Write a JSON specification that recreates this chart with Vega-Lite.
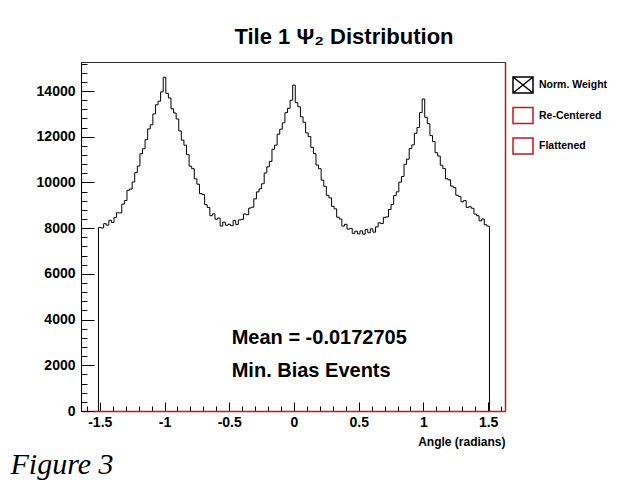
{
  "$schema": "https://vega.github.io/schema/vega-lite/v6.json",
  "autosize": {"type": "none"},
  "width": 424,
  "height": 349,
  "padding": {"left": 81, "top": 62, "right": 128, "bottom": 82},
  "background": "white",
  "config": {
    "font": "Liberation Sans",
    "view": {"stroke": "#333333", "strokeWidth": 1},
    "axis": {"labelFont": "Liberation Sans", "titleFont": "Liberation Sans", "grid": false}
  },
  "title": {
    "text": "Tile 1 Ψ₂ Distribution",
    "font": "Liberation Sans",
    "fontSize": 22,
    "fontWeight": "bold",
    "color": "black",
    "anchor": "middle",
    "frame": "group",
    "baseline": "alphabetic",
    "dx": 51,
    "offset": -9
  },
  "datasets": {
    "hist": [
      {"x": -1.51, "y": 0},
      {"x": -1.51, "y": 8030}, {"x": -1.49, "y": 8008}, {"x": -1.47, "y": 8195}, {"x": -1.45, "y": 8131}, {"x": -1.43, "y": 8345},
      {"x": -1.41, "y": 8247}, {"x": -1.39, "y": 8470}, {"x": -1.37, "y": 8674}, {"x": -1.35, "y": 8668}, {"x": -1.33, "y": 9053},
      {"x": -1.31, "y": 9209}, {"x": -1.29, "y": 9656}, {"x": -1.27, "y": 9713}, {"x": -1.25, "y": 10020}, {"x": -1.23, "y": 10429},
      {"x": -1.21, "y": 10717}, {"x": -1.19, "y": 11256}, {"x": -1.17, "y": 11475}, {"x": -1.15, "y": 11874}, {"x": -1.13, "y": 12343},
      {"x": -1.11, "y": 12522}, {"x": -1.09, "y": 13000}, {"x": -1.07, "y": 13398}, {"x": -1.05, "y": 13556}, {"x": -1.03, "y": 13963},
      {"x": -1.01, "y": 14600}, {"x": -0.99, "y": 13898}, {"x": -0.97, "y": 13695}, {"x": -0.95, "y": 13223}, {"x": -0.93, "y": 13040},
      {"x": -0.91, "y": 12777}, {"x": -0.89, "y": 12254}, {"x": -0.87, "y": 11851}, {"x": -0.85, "y": 11628}, {"x": -0.83, "y": 11215},
      {"x": -0.81, "y": 10712}, {"x": -0.79, "y": 10600}, {"x": -0.77, "y": 10157}, {"x": -0.75, "y": 9924}, {"x": -0.73, "y": 9512},
      {"x": -0.71, "y": 9470}, {"x": -0.69, "y": 9028}, {"x": -0.67, "y": 8906}, {"x": -0.65, "y": 8545}, {"x": -0.63, "y": 8623},
      {"x": -0.61, "y": 8392}, {"x": -0.59, "y": 8442}, {"x": -0.57, "y": 8089}, {"x": -0.55, "y": 8264}, {"x": -0.53, "y": 8128},
      {"x": -0.51, "y": 8170}, {"x": -0.49, "y": 8107}, {"x": -0.47, "y": 8331}, {"x": -0.45, "y": 8162}, {"x": -0.43, "y": 8360},
      {"x": -0.41, "y": 8384}, {"x": -0.39, "y": 8617}, {"x": -0.37, "y": 8589}, {"x": -0.35, "y": 8878}, {"x": -0.33, "y": 8916},
      {"x": -0.31, "y": 9282}, {"x": -0.29, "y": 9586}, {"x": -0.27, "y": 9720}, {"x": -0.25, "y": 9943}, {"x": -0.23, "y": 10414},
      {"x": -0.21, "y": 10684}, {"x": -0.19, "y": 10923}, {"x": -0.17, "y": 11452}, {"x": -0.15, "y": 11631}, {"x": -0.13, "y": 12110},
      {"x": -0.11, "y": 12329}, {"x": -0.09, "y": 12610}, {"x": -0.07, "y": 13051}, {"x": -0.05, "y": 13243}, {"x": -0.03, "y": 13596},
      {"x": -0.01, "y": 14260}, {"x": 0.01, "y": 13491}, {"x": 0.03, "y": 13312}, {"x": 0.05, "y": 12873}, {"x": 0.07, "y": 12634},
      {"x": 0.09, "y": 12165}, {"x": 0.11, "y": 12006}, {"x": 0.13, "y": 11538}, {"x": 0.15, "y": 11259}, {"x": 0.17, "y": 10760},
      {"x": 0.19, "y": 10601}, {"x": 0.21, "y": 10102}, {"x": 0.23, "y": 9833}, {"x": 0.25, "y": 9434}, {"x": 0.27, "y": 9325},
      {"x": 0.29, "y": 8956}, {"x": 0.31, "y": 8847}, {"x": 0.33, "y": 8478}, {"x": 0.35, "y": 8398}, {"x": 0.37, "y": 8089},
      {"x": 0.39, "y": 8169}, {"x": 0.41, "y": 7959}, {"x": 0.43, "y": 7988}, {"x": 0.45, "y": 7774}, {"x": 0.47, "y": 7868},
      {"x": 0.49, "y": 7750}, {"x": 0.51, "y": 7880}, {"x": 0.53, "y": 7740}, {"x": 0.55, "y": 7945}, {"x": 0.57, "y": 7800},
      {"x": 0.59, "y": 7970}, {"x": 0.61, "y": 7825}, {"x": 0.63, "y": 8055}, {"x": 0.65, "y": 8233}, {"x": 0.67, "y": 8200},
      {"x": 0.69, "y": 8472}, {"x": 0.71, "y": 8493}, {"x": 0.73, "y": 8818}, {"x": 0.75, "y": 9037}, {"x": 0.77, "y": 9426},
      {"x": 0.79, "y": 9589}, {"x": 0.81, "y": 10012}, {"x": 0.83, "y": 10259}, {"x": 0.85, "y": 10795}, {"x": 0.87, "y": 11018},
      {"x": 0.89, "y": 11481}, {"x": 0.91, "y": 11644}, {"x": 0.93, "y": 12150}, {"x": 0.95, "y": 12407}, {"x": 0.97, "y": 13060},
      {"x": 0.99, "y": 13650}, {"x": 1.01, "y": 12850}, {"x": 1.03, "y": 12570}, {"x": 1.05, "y": 12051}, {"x": 1.07, "y": 11791},
      {"x": 1.09, "y": 11301}, {"x": 1.11, "y": 11153}, {"x": 1.13, "y": 10754}, {"x": 1.15, "y": 10607}, {"x": 1.17, "y": 10160},
      {"x": 1.19, "y": 10115}, {"x": 1.21, "y": 9839}, {"x": 1.23, "y": 9773}, {"x": 1.25, "y": 9439}, {"x": 1.27, "y": 9385},
      {"x": 1.29, "y": 9152}, {"x": 1.31, "y": 9209}, {"x": 1.33, "y": 8907}, {"x": 1.35, "y": 8938}, {"x": 1.37, "y": 8870},
      {"x": 1.39, "y": 8617}, {"x": 1.41, "y": 8543}, {"x": 1.43, "y": 8320}, {"x": 1.45, "y": 8401}, {"x": 1.47, "y": 8149},
      {"x": 1.49, "y": 8090}, {"x": 1.51, "y": 8090},
      {"x": 1.51, "y": 0}
    ],
    "notes": [
      {"x": -0.481, "y": 2931, "text": "Mean = -0.0172705"},
      {"x": -0.481, "y": 1500, "text": "Min. Bias Events"}
    ]
  },
  "layer": [
    {
      "data": {"name": "hist"},
      "mark": {"type": "line", "interpolate": "step-after", "strokeWidth": 1},
      "encoding": {
        "x": {
          "field": "x",
          "type": "quantitative",
          "scale": {"domain": [-1.645, 1.63], "nice": false, "zero": false},
          "axis": {
            "orient": "bottom",
            "values": [-1.6, -1.5, -1.4, -1.3, -1.2, -1.1, -1, -0.9, -0.8, -0.7, -0.6, -0.5, -0.4, -0.3, -0.2, -0.1, 0, 0.1, 0.2, 0.3, 0.4, 0.5, 0.6, 0.7, 0.8, 0.9, 1, 1.1, 1.2, 1.3, 1.4, 1.5, 1.6],
            "labelExpr": "abs(datum.value * 2 - round(datum.value * 2)) < 0.001 ? toString(datum.value) : ''",
            "tickSize": {"condition": {"test": "abs(datum.value * 2 - round(datum.value * 2)) < 0.001", "value": -9}, "value": -5},
            "tickColor": "black",
            "tickWidth": 1,
            "labelPadding": 13,
            "labelFontSize": 14,
            "labelFontWeight": "bold",
            "labelColor": "black",
            "labelOverlap": false,
            "labelFlush": false,
            "domainColor": "#c8141e",
            "domainWidth": 1.5,
            "title": "Angle (radians)",
            "titleAnchor": "end",
            "titleFontSize": 12,
            "titleFontWeight": "bold",
            "titleColor": "black",
            "titlePadding": 3
          }
        },
        "y": {
          "field": "y",
          "type": "quantitative",
          "scale": {"domain": [0, 15270], "nice": false, "zero": true},
          "axis": {
            "orient": "left",
            "values": [0, 400, 800, 1200, 1600, 2000, 2400, 2800, 3200, 3600, 4000, 4400, 4800, 5200, 5600, 6000, 6400, 6800, 7200, 7600, 8000, 8400, 8800, 9200, 9600, 10000, 10400, 10800, 11200, 11600, 12000, 12400, 12800, 13200, 13600, 14000, 14400, 14800, 15200],
            "labelExpr": "datum.value % 2000 === 0 ? toString(datum.value) : ''",
            "tickSize": {"condition": {"test": "datum.value % 2000 === 0", "value": -13}, "value": -6},
            "tickColor": "black",
            "labelPadding": 19,
            "labelFontSize": 14,
            "labelFontWeight": "bold",
            "labelColor": "black",
            "labelOverlap": false,
            "labelFlush": false,
            "domainColor": "black",
            "title": null
          }
        },
        "color": {
          "datum": "Norm. Weight",
          "type": "nominal",
          "scale": {"domain": ["Norm. Weight", "Re-Centered", "Flattened"], "range": ["black", "#c8141e", "#c8141e"]},
          "legend": {
            "title": null,
            "orient": "none",
            "legendX": 433,
            "legendY": 14,
            "padding": 0,
            "symbolType": "M-1.25,-1H1.25V1H-1.25Z",
            "symbolSize": 256,
            "symbolStrokeWidth": 1.5,
            "symbolFillColor": "white",
            "labelFontSize": 10.5,
            "labelFontWeight": "bold",
            "labelColor": "black",
            "labelOffset": 7,
            "rowPadding": 8.5,
            "encode": {
              "symbols": {
                "update": {
                  "shape": {"signal": "datum.value === 'Norm. Weight' ? 'M-1.25,-1H1.25V1H-1.25Z M-1.25,-1L1.25,1 M1.25,-1L-1.25,1' : 'M-1.25,-1H1.25V1H-1.25Z'"},
                  "fill": {"value": "white"},
                  "opacity": {"value": 1}
                }
              }
            }
          }
        },
        "order": {"value": null}
      }
    },
    {
      "data": {"name": "notes"},
      "mark": {"type": "text", "align": "left", "baseline": "alphabetic", "fontSize": 20, "fontWeight": "bold", "color": "black", "font": "Liberation Sans"},
      "encoding": {
        "x": {
          "field": "x",
          "type": "quantitative",
          "axis": {
            "orient": "bottom",
            "domain": false,
            "ticks": false,
            "labels": false,
            "grid": false,
            "title": "Figure 3",
            "titleFont": "Liberation Serif",
            "titleFontStyle": "italic",
            "titleFontWeight": "normal",
            "titleFontSize": 30,
            "titleColor": "black",
            "titleAnchor": "start",
            "titleAlign": "left",
            "titleBaseline": "alphabetic",
            "titleX": -71,
            "titleY": 62
          }
        },
        "y": {
          "field": "y",
          "type": "quantitative",
          "axis": {"orient": "right", "domainColor": "#c8141e", "domainWidth": 1.5, "ticks": false, "labels": false, "title": null, "grid": false}
        },
        "text": {"field": "text"}
      }
    }
  ],
  "resolve": {"axis": {"x": "independent", "y": "independent"}}
}
